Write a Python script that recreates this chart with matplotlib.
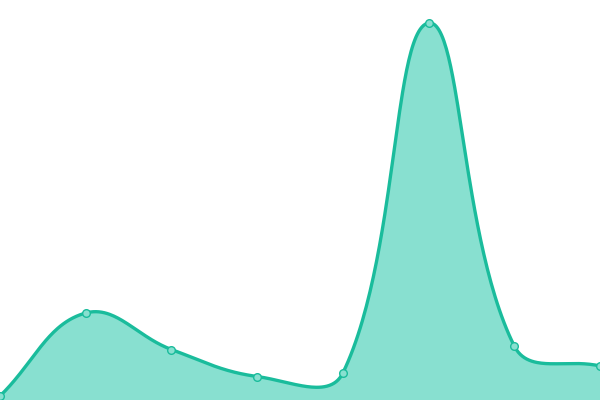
import numpy as np
import matplotlib
matplotlib.use("Agg")
import matplotlib.pyplot as plt

# values (0 = bottom edge, 400 = top edge)
values = [4, 87, 50.5, 23.5, 27, 377, 54, 34]
n_points = len(values)

LINE = "#1abc9c"
FILL = "#88e0d0"
SMOOTH = 0.4

W, H = 600, 400
xs = np.arange(n_points) * W / (n_points - 1)
ys = np.array(values, dtype=float)


def control_points(x, y, smooth):
    # per point: incoming and outgoing bezier control points
    cin = []
    cout = []
    n = len(x)
    for i in range(n):
        px, py = (x[i - 1], y[i - 1]) if i > 0 else (x[i], y[i])
        nx, ny = (x[i + 1], y[i + 1]) if i < n - 1 else (x[i], y[i])
        vx, vy = nx - px, ny - py
        d0 = np.hypot(x[i] - px, y[i] - py)
        d1 = np.hypot(nx - x[i], ny - y[i])
        r = d1 / (d0 + d1) if d0 + d1 > 0 else 0.5
        cin.append((x[i] - vx * smooth * (1 - r), y[i] - vy * smooth * (1 - r)))
        cout.append((x[i] + vx * smooth * r, y[i] + vy * smooth * r))
    return cin, cout


cin, cout = control_points(xs, ys, SMOOTH)
t = np.linspace(0, 1, 60)[:, None]
curve = []
for i in range(n_points - 1):
    p0 = np.array([xs[i], ys[i]])
    p1 = np.array(cout[i])
    p2 = np.array(cin[i + 1])
    p3 = np.array([xs[i + 1], ys[i + 1]])
    seg = ((1 - t) ** 3) * p0 + 3 * ((1 - t) ** 2) * t * p1 + 3 * (1 - t) * t ** 2 * p2 + t ** 3 * p3
    curve.append(seg if i == 0 else seg[1:])
curve = np.vstack(curve)

fig = plt.figure(figsize=(6, 4), dpi=100)
ax = fig.add_axes([0, 0, 1, 1])
ax.fill_between(curve[:, 0], 0, curve[:, 1], color=FILL, lw=0)
ax.plot(curve[:, 0], curve[:, 1], color=LINE, lw=2.4, solid_capstyle="round")
ax.plot(xs, ys, "o", ms=5.5, mfc=FILL, mec=LINE, mew=1.0, clip_on=True)
ax.set_xlim(0, W)
ax.set_ylim(0, H)
ax.axis("off")
fig.savefig("out.png", dpi=100)
